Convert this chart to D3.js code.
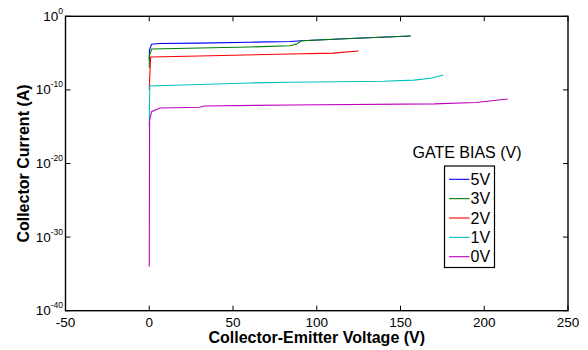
<!DOCTYPE html>
<html>
<head>
<meta charset="utf-8">
<script src="https://cdn.jsdelivr.net/npm/d3@7"></script>
<style>
  body { margin: 0; background: #fff; }
  svg { font-family: Arial, "Liberation Sans", sans-serif; }
</style>
</head>
<body>
<div id="chart"></div>
<script>
// Collector current (A) vs collector-emitter voltage (V), one curve per gate bias
var biasLabels = ["5V", "3V", "2V", "1V", "0V"];
var biasColors = ["#0000ff", "#008000", "#ff0000", "#00bfbf", "#bf00bf"];

var v5 = [0, 0.1, 1.4, 6, 30, 60, 84, 91, 120, 156];
var i5 = [1e-6, 2.6e-5, 1.6e-4, 2.0e-4, 2.3e-4, 3.0e-4, 3.8e-4, 4.8e-4, 9.5e-4, 2.1e-3];

var v3 = [0, 0.1, 1.5, 30, 60, 84, 88, 91, 120, 156];
var i3 = [1e-7, 5.5e-6, 3.6e-5, 4.9e-5, 6.8e-5, 1.0e-4, 1.7e-4, 4.8e-4, 9.5e-4, 2.1e-3];

var v2 = [0, 0.8, 30, 84, 110, 125];
var i2 = [1e-10, 3.0e-6, 4.1e-6, 7.6e-6, 1.0e-5, 1.9e-5];

var v1 = [0, 0.3, 30, 60, 84, 140, 158, 168, 175.5];
var i1 = [1e-15, 3.4e-10, 5.4e-10, 8.7e-10, 1.1e-9, 1.5e-9, 2.1e-9, 3.8e-9, 1.05e-8];

var v0 = [0, 0.2, 1.4, 6.4, 30, 33, 84, 170, 195, 214];
var i0 = [1e-34, 7.9e-15, 1.1e-13, 3.5e-13, 4.4e-13, 6.5e-13, 8.9e-13, 1.25e-12, 1.9e-12, 5.8e-12];

var xTicks = [-50, 0, 50, 100, 150, 200, 250];
var yTickExps = [0, -10, -20, -30, -40];

var seriesV = [v5, v3, v2, v1, v0];
var seriesI = [i5, i3, i2, i1, i0];

var W = 588, H = 350;
var margin = {top: 16.3, right: 20, bottom: 39.3, left: 65.5};

var svg = d3.select("#chart").append("svg")
    .attr("width", W)
    .attr("height", H);

var x = d3.scaleLinear().domain([-50, 250]).range([margin.left, W - margin.right]);
var y = d3.scaleLog().domain([1e-40, 1]).range([H - margin.bottom, margin.top]);

var x0 = margin.left, x1 = W - margin.right, y0 = margin.top, y1 = H - margin.bottom;

// curves
var line = d3.line()
    .x(function(d) { return x(d[0]); })
    .y(function(d) { return y(d[1]); });

for (var s = 0; s < seriesV.length; s++) {
    var pts = seriesV[s].map(function(v, k) { return [v, seriesI[s][k]]; });
    svg.append("path")
        .datum(pts)
        .attr("fill", "none")
        .attr("stroke", biasColors[s])
        .attr("stroke-width", 1.1)
        .attr("d", line);
}

// ticks pointing in, on all four sides
var tickLen = 5;
var tk = svg.append("g").attr("stroke", "#000").attr("stroke-width", 1);
xTicks.forEach(function(t) {
    tk.append("line").attr("x1", x(t)).attr("x2", x(t)).attr("y1", y1).attr("y2", y1 - tickLen);
    tk.append("line").attr("x1", x(t)).attr("x2", x(t)).attr("y1", y0).attr("y2", y0 + tickLen);
});
yTickExps.forEach(function(e) {
    var yy = y(Math.pow(10, e));
    tk.append("line").attr("x1", x0).attr("x2", x0 + tickLen).attr("y1", yy).attr("y2", yy);
    tk.append("line").attr("x1", x1).attr("x2", x1 - tickLen).attr("y1", yy).attr("y2", yy);
});

// box
svg.append("rect")
    .attr("x", x0).attr("y", y0)
    .attr("width", x1 - x0).attr("height", y1 - y0)
    .attr("fill", "none")
    .attr("stroke", "#000")
    .attr("stroke-width", 1.4);

// x tick labels
svg.append("g").selectAll("text")
    .data(xTicks)
    .enter().append("text")
    .attr("x", function(d) { return x(d); })
    .attr("y", y1 + 16.5)
    .attr("text-anchor", "middle")
    .attr("font-size", 13.5)
    .text(function(d) { return d; });

// y tick labels 10^n
var yl = svg.append("g").selectAll("text")
    .data(yTickExps)
    .enter().append("text")
    .attr("x", x0 - 2.5)
    .attr("y", function(d) { return y(Math.pow(10, d)) + 4.5; })
    .attr("text-anchor", "end")
    .attr("font-size", 13.5);
yl.append("tspan").text("10");
yl.append("tspan").attr("dy", -7).attr("font-size", 8.5).text(function(d) { return d; });

// axis titles
svg.append("text")
    .attr("x", (x0 + x1) / 2)
    .attr("y", 343)
    .attr("text-anchor", "middle")
    .attr("font-size", 16)
    .attr("font-weight", "bold")
    .text("Collector-Emitter Voltage (V)");

svg.append("text")
    .attr("transform", "translate(29," + ((y0 + y1) / 2) + ") rotate(-90)")
    .attr("text-anchor", "middle")
    .attr("font-size", 16)
    .attr("font-weight", "bold")
    .text("Collector Current (A)");

// legend
svg.append("text")
    .attr("x", 467)
    .attr("y", 158)
    .attr("text-anchor", "middle")
    .attr("font-size", 16)
    .text("GATE BIAS (V)");

var lg = svg.append("g");
lg.append("rect")
    .attr("x", 444.5).attr("y", 166)
    .attr("width", 50).attr("height", 101.5)
    .attr("fill", "#fff")
    .attr("stroke", "#000")
    .attr("stroke-width", 1.2);

biasLabels.forEach(function(lab, k) {
    var yy = 179.3 + k * 19.35;
    lg.append("line")
        .attr("x1", 449).attr("x2", 469.5)
        .attr("y1", yy).attr("y2", yy)
        .attr("stroke", biasColors[k])
        .attr("stroke-width", 1.1);
    lg.append("text")
        .attr("x", 470.5)
        .attr("y", yy + 5.5)
        .attr("font-size", 16)
        .text(lab);
});
</script>
</body>
</html>
